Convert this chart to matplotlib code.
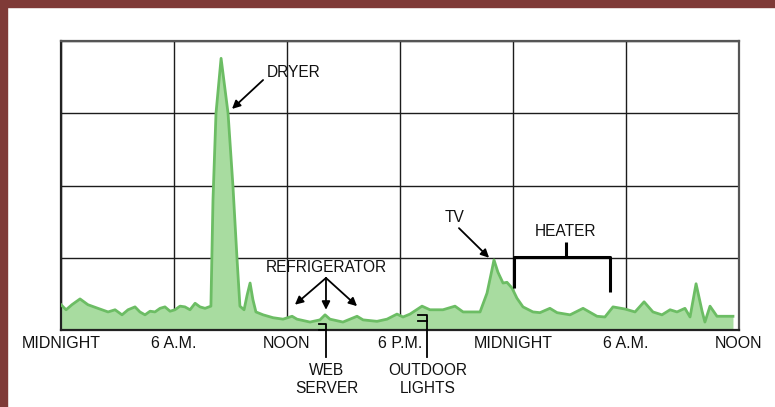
import matplotlib
matplotlib.use("Agg")
import matplotlib.pyplot as plt
from matplotlib.patches import Rectangle

plt.rcParams['font.family'] = ['Liberation Sans', 'DejaVu Sans']

# ---- data (hours since midnight, relative power in grid units) ----
hours = [0.00, 0.27, 0.58, 1.01, 1.43, 1.96, 2.50, 2.87, 3.24, 3.56, 3.93, 4.19, 4.46, 4.73,
         4.99, 5.26, 5.52, 5.79, 6.05, 6.32, 6.58, 6.85, 7.12, 7.38, 7.65, 7.96,
         8.07, 8.23, 8.50, 8.87, 9.13, 9.35, 9.50, 9.72, 9.88, 10.04, 10.19, 10.35,
         10.73, 11.26, 11.79, 12.27, 12.53, 13.22, 13.75, 14.02, 14.28, 14.97, 15.72,
         16.04, 16.78, 17.31, 17.84, 18.16, 18.53, 19.17, 19.59, 20.28, 20.92, 21.35,
         22.25, 22.62, 22.88, 22.99, 23.20, 23.47, 23.68, 23.95, 24.21, 24.53, 25.06,
         25.43, 25.96, 26.34, 27.03, 27.72, 28.46, 28.88, 29.31, 29.95, 30.48, 30.96,
         31.43, 31.91, 32.34, 32.71, 33.13, 33.40, 33.72, 34.04, 34.19, 34.46, 34.83,
         35.26, 35.68]
power = [0.35, 0.28, 0.35, 0.43, 0.35, 0.30, 0.25, 0.28, 0.21, 0.28, 0.32, 0.25, 0.21, 0.26,
         0.25, 0.30, 0.32, 0.26, 0.28, 0.33, 0.32, 0.28, 0.37, 0.32, 0.30, 0.33,
         1.80, 3.00, 3.76, 3.00, 1.99, 0.97, 0.33, 0.28, 0.48, 0.65, 0.42, 0.25,
         0.21, 0.17, 0.15, 0.19, 0.15, 0.11, 0.14, 0.21, 0.15, 0.11, 0.19,
         0.14, 0.12, 0.15, 0.22, 0.18, 0.22, 0.33, 0.28, 0.28, 0.33, 0.25,
         0.25, 0.51, 0.83, 0.97, 0.80, 0.65, 0.66, 0.58, 0.44, 0.32, 0.25,
         0.24, 0.30, 0.24, 0.21, 0.30, 0.19, 0.18, 0.32, 0.29, 0.25, 0.39,
         0.25, 0.21, 0.28, 0.25, 0.30, 0.18, 0.64, 0.26, 0.11, 0.33, 0.19,
         0.19, 0.19]

tick_hours = [0, 6, 12, 18, 24, 30, 36]
tick_labels = ["MIDNIGHT", "6 A.M.", "NOON", "6 P.M.", "MIDNIGHT", "6 A.M.", "NOON"]

W, H = 775, 407
fig = plt.figure(figsize=(W / 100, H / 100), dpi=100)
fig.patch.set_facecolor("white")

# maroon frame (left and top)
maroon = "#7f3a37"
fig.patches.append(Rectangle((0, 0), 7 / W, 1, transform=fig.transFigure, color=maroon, zorder=0))
fig.patches.append(Rectangle((0, 1 - 7 / H), 1, 7 / H, transform=fig.transFigure, color=maroon, zorder=0))

ax = fig.add_axes([61 / W, (H - 330) / H, 678 / W, 289 / H])
ax.set_xlim(0, 36)
ax.set_ylim(0, 4)
ax.set_axisbelow(True)
ax.set_xticks(tick_hours)
ax.set_xticklabels(tick_labels, fontsize=11.5)
ax.set_yticks([0, 1, 2, 3, 4])
ax.set_yticklabels([])
ax.tick_params(length=0, pad=4, labelcolor="#111111")
ax.grid(True, color="#1c1c1c", linewidth=1.0)
for s in ax.spines.values():
    s.set_color("#555555")
    s.set_linewidth(1.6)
ax.spines["bottom"].set_color("#222222")
ax.spines["left"].set_color("#222222")

ax.fill_between(hours, power, 0, color="#a8dca0", linewidth=0, zorder=2)
ax.plot(hours, power, color="#6cbd64", linewidth=2, zorder=3, solid_joinstyle="round")

txt = dict(fontsize=11.2, color="#111111", ha="center", va="center", zorder=6)
arrow = dict(arrowstyle="-|>", color="black", lw=1.3, mutation_scale=12, shrinkA=0, shrinkB=0)

# DRYER
ax.text(12.37, 3.57, "DRYER", **txt)
ax.annotate("", xy=(9.08, 3.06), xytext=(10.73, 3.46), arrowprops=arrow, zorder=6)

# REFRIGERATOR
ax.text(14.07, 0.86, "REFRIGERATOR", **txt)
for ex, ey in [(12.42, 0.35), (14.07, 0.28), (15.72, 0.33)]:
    ax.annotate("", xy=(ex, ey), xytext=(14.07, 0.72), arrowprops=arrow, zorder=6)

# TV
ax.text(20.92, 1.56, "TV", **txt)
ax.annotate("", xy=(22.73, 1.00), xytext=(21.13, 1.41), arrowprops=arrow, zorder=6)

# HEATER bracket
ax.text(26.81, 1.37, "HEATER", **txt)
bk = dict(color="black", lw=2.2, zorder=6, solid_capstyle="butt", clip_on=False)
ax.plot([26.81, 26.81], [1.22, 1.01], **bk)
ax.plot([24.05, 24.05, 29.15, 29.15], [0.58, 1.01, 1.01, 0.53], **bk)

# WEB SERVER
ln = dict(color="black", lw=1.3, zorder=6, clip_on=False)
ax.plot([13.70, 14.07, 14.07], [0.08, 0.08, -0.37], **ln)
ax.plot([13.70, 14.07], [0.0, 0.0], **ln)
ax.text(14.12, -0.68, "WEB\nSERVER", linespacing=1.25, **txt)

# OUTDOOR LIGHTS
ax.plot([18.96, 19.43, 19.43], [0.21, 0.21, -0.37], **ln)
ax.plot([18.96, 19.43], [0.12, 0.12], **ln)
ax.text(19.49, -0.68, "OUTDOOR\nLIGHTS", linespacing=1.25, **txt)

fig.savefig("out.png", dpi=100)
